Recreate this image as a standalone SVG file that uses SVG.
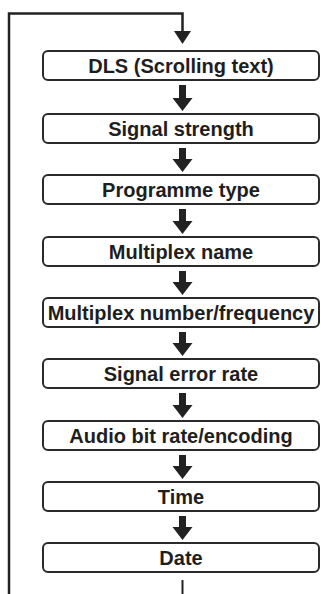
<svg xmlns="http://www.w3.org/2000/svg" width="321" height="594" viewBox="0 0 321 594">
<style>
.box{fill:#fff;stroke:#2a2a2a;stroke-width:2}
.lbl{font-family:"Liberation Sans",Arial,sans-serif;font-weight:bold;font-size:20px;fill:#1e1e1e;text-anchor:middle}
.arr{fill:#222}
.ln{fill:none;stroke:#222;stroke-width:2.5}
</style>
<rect width="321" height="594" fill="#fff"/>
<g id="connectors">
<path class="ln" d="M9,594 V13.5 H182.5 V31"/>
<path class="arr" d="M174,31 H191 L182.5,44 Z"/>
<path class="arr" d="M179,85 H186 V98 H192.5 L182.5,111 L172.5,98 H179 Z"/>
<path class="arr" d="M179,148 H186 V159 H192.5 L182.5,172 L172.5,159 H179 Z"/>
<path class="arr" d="M179,209 H186 V221 H192.5 L182.5,234 L172.5,221 H179 Z"/>
<path class="arr" d="M179,271 H186 V282 H192.5 L182.5,295 L172.5,282 H179 Z"/>
<path class="arr" d="M179,332 H186 V343 H192.5 L182.5,356 L172.5,343 H179 Z"/>
<path class="arr" d="M179,393 H186 V405 H192.5 L182.5,418 L172.5,405 H179 Z"/>
<path class="arr" d="M179,455 H186 V466 H192.5 L182.5,479 L172.5,466 H179 Z"/>
<path class="arr" d="M179,516 H186 V527 H192.5 L182.5,540 L172.5,527 H179 Z"/>
<path class="ln" d="M182.5,580 V594" style="stroke-width:2"/>
</g>
<g id="n1"><rect class="box" x="43" y="51" width="276" height="29" rx="5"/><text class="lbl" x="181" y="72.5">DLS (Scrolling text)</text></g>
<g id="n2"><rect class="box" x="43" y="114" width="276" height="29" rx="5"/><text class="lbl" x="181" y="135.5">Signal strength</text></g>
<g id="n3"><rect class="box" x="43" y="175" width="276" height="29" rx="5"/><text class="lbl" x="181" y="196.5">Programme type</text></g>
<g id="n4"><rect class="box" x="43" y="237" width="276" height="29" rx="5"/><text class="lbl" x="181" y="258.5">Multiplex name</text></g>
<g id="n5"><rect class="box" x="43" y="298" width="276" height="29" rx="5"/><text class="lbl" x="181" y="319.5">Multiplex number/frequency</text></g>
<g id="n6"><rect class="box" x="43" y="359" width="276" height="29" rx="5"/><text class="lbl" x="181" y="380.5">Signal error rate</text></g>
<g id="n7"><rect class="box" x="43" y="421" width="276" height="29" rx="5"/><text class="lbl" x="181" y="442.5">Audio bit rate/encoding</text></g>
<g id="n8"><rect class="box" x="43" y="482" width="276" height="29" rx="5"/><text class="lbl" x="181" y="503.5">Time</text></g>
<g id="n9"><rect class="box" x="43" y="543" width="276" height="29" rx="5"/><text class="lbl" x="181" y="564.5">Date</text></g>
</svg>
